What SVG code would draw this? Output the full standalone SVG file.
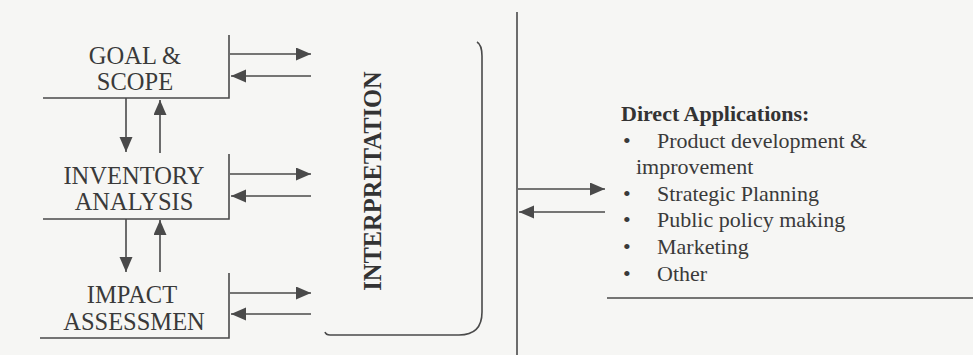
<svg xmlns="http://www.w3.org/2000/svg" width="973" height="355" viewBox="0 0 973 355">
<defs>
<marker id="ah" markerUnits="userSpaceOnUse" markerWidth="16" markerHeight="14" refX="15" refY="6.5" orient="auto">
<path d="M0,0 L15,6.5 L0,13 z" fill="#4a4a4a"/>
</marker>
<style>
.ln{stroke:#4a4a4a;stroke-width:1.6;fill:none}
.ar{stroke:#4a4a4a;stroke-width:1.6;fill:none;marker-end:url(#ah)}
.lt{font-family:"Liberation Serif","Times New Roman",serif;font-size:24.5px;fill:#3a3a3a;text-anchor:middle}
.rt{font-family:"Liberation Serif","Times New Roman",serif;font-size:22px;fill:#3a3a3a}
.bt{font-family:"Liberation Serif","Times New Roman",serif;font-size:22px;font-weight:bold;fill:#333}
.it{font-family:"Liberation Serif","Times New Roman",serif;font-size:24.5px;font-weight:bold;fill:#333;text-anchor:middle}
</style>
</defs>
<rect width="973" height="355" fill="#f6f6f4"/>

<g id="goal">
<path class="ln" d="M43,98 H229 V35"/>
<text class="lt" x="135" y="64">GOAL &amp;</text>
<text class="lt" x="135" y="90">SCOPE</text>
</g>

<g id="inventory">
<path class="ln" d="M43,219 H229 V154"/>
<text class="lt" x="134" y="184">INVENTORY</text>
<text class="lt" x="134" y="210">ANALYSIS</text>
</g>

<g id="impact">
<path class="ln" d="M40,338 H229 V273"/>
<text class="lt" x="132" y="303">IMPACT</text>
<text class="lt" x="134" y="330">ASSESSMEN</text>
</g>

<g id="interpretation">
<path class="ln" d="M477,42 Q482,45 482,56 V312 Q482,335 459,335 H330 Q326,335 325,332"/>
<text class="it" transform="translate(381,181) rotate(-90)">INTERPRETATION</text>
</g>

<g id="applications">
<path class="ln" d="M517,12 V355"/>
<path class="ln" d="M607,298 H973"/>
<text class="bt" x="621" y="121">Direct Applications:</text>
<g class="rt">
<text x="623" y="148">•</text><text x="657" y="148">Product development &amp;</text>
<text x="636" y="174">improvement</text>
<text x="623" y="201">•</text><text x="657" y="201">Strategic Planning</text>
<text x="623" y="227">•</text><text x="657" y="227">Public policy making</text>
<text x="623" y="254">•</text><text x="657" y="254">Marketing</text>
<text x="623" y="281">•</text><text x="657" y="281">Other</text>
</g>
</g>

<g id="connectors">
<path class="ar" d="M230,54 H311"/>
<path class="ar" d="M311,76 H231"/>
<path class="ar" d="M230,174 H311"/>
<path class="ar" d="M311,196 H231"/>
<path class="ar" d="M230,293 H311"/>
<path class="ar" d="M311,314 H231"/>
<path class="ar" d="M126,98 V152"/>
<path class="ar" d="M160,153 V100"/>
<path class="ar" d="M126,219 V272"/>
<path class="ar" d="M160,272 V220"/>
<path class="ar" d="M518,189 H605"/>
<path class="ar" d="M605,212 H519"/>
</g>
</svg>
